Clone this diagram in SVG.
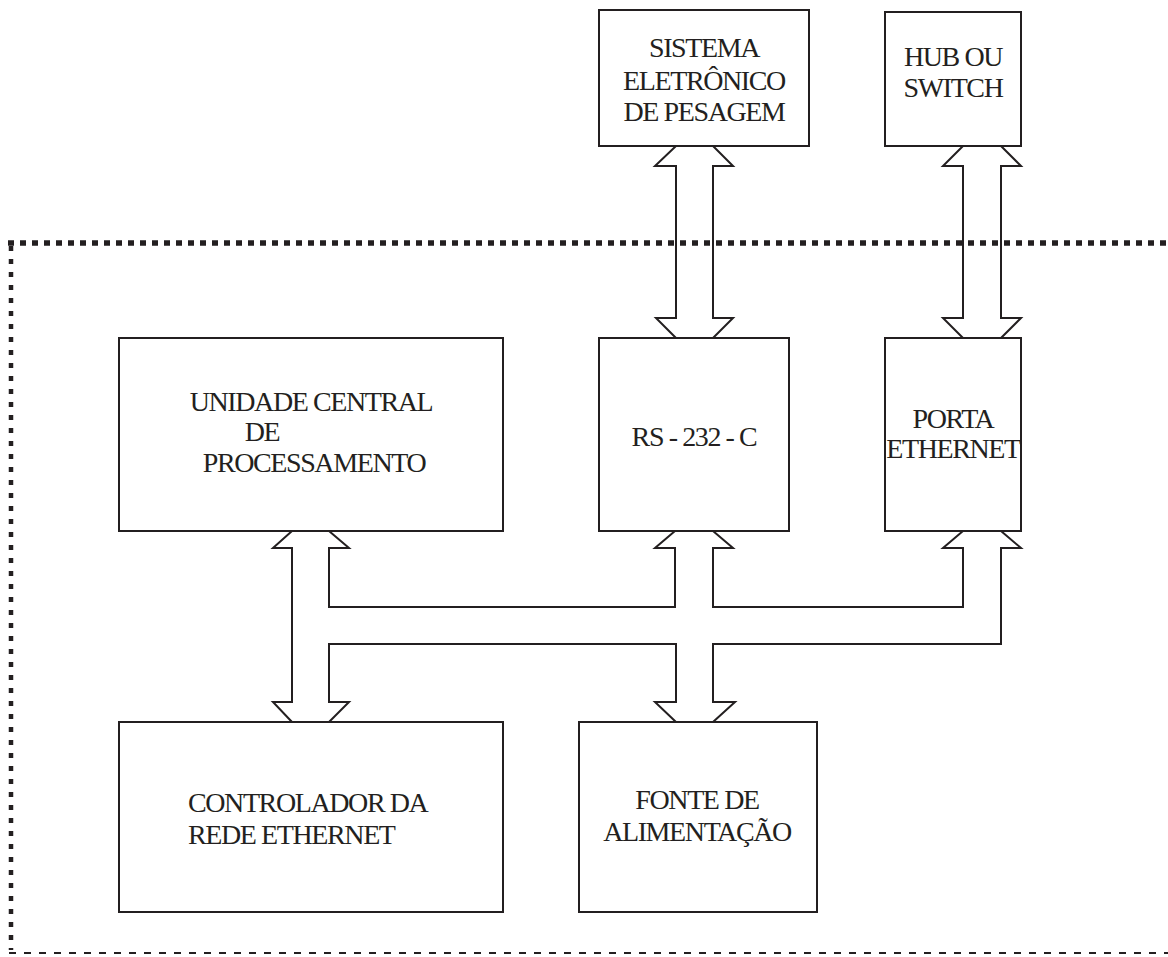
<svg xmlns="http://www.w3.org/2000/svg" width="1168" height="957" viewBox="0 0 1168 957">
<style>
.box{fill:#fff;stroke:#231f20;stroke-width:2}
.con{fill:none;stroke:#231f20;stroke-width:2;stroke-linejoin:miter}
.t{font-family:"Liberation Serif","Times New Roman",serif;font-size:28px;fill:#231f20;text-anchor:middle;letter-spacing:-1.4px}
.ts{text-anchor:start}
</style>
<rect width="1168" height="957" fill="#fff"/>
<g id="border">
<line x1="8" y1="243" x2="1168" y2="243" stroke="#231f20" stroke-width="5.5" stroke-dasharray="6 6"/>
<line x1="11" y1="246" x2="11" y2="950" stroke="#231f20" stroke-width="4.5" stroke-dasharray="5 8"/>
<line x1="9" y1="953" x2="1168" y2="953" stroke="#231f20" stroke-width="2" stroke-dasharray="7 8"/>
</g>
<g id="connectors">
<path class="con" d="M676,146 L655,166 L676,166 L676,318 L656,318 L676,338 M713,338 L733,318 L713,318 L713,166 L733,166 L713,146"/>
<path class="con" d="M963,146 L943,166 L963,166 L963,318 L943,318 L963,338 M1001,338 L1021,318 L1001,318 L1001,166 L1021,166 L1001,146"/>
<path class="con" d="M329,531 L349,548 L329,548 L329,607 L675,607 L675,548 L655,548 L675,531"/>
<path class="con" d="M713,531 L733,548 L713,548 L713,607 L963,607 L963,548 L943,548 L963,531"/>
<path class="con" d="M1001,531 L1021,548 L1001,548 L1001,644 L713,644 L713,702 L735,702 L713,722"/>
<path class="con" d="M676,722 L655,702 L676,702 L676,644 L329,644 L329,702 L349,702 L329,722"/>
<path class="con" d="M292,531 L273,548 L292,548 L292,702 L273,702 L292,722"/>
</g>
<g id="sistema">
<rect class="box" x="599" y="10" width="210" height="136"/>
<text class="t" x="704" y="57">SISTEMA</text>
<text class="t" x="704" y="90">ELETRÔNICO</text>
<text class="t" x="704" y="121">DE PESAGEM</text>
</g>
<g id="hub">
<rect class="box" x="885" y="12" width="136" height="134"/>
<text class="t" x="953" y="66">HUB OU</text>
<text class="t" x="953" y="97">SWITCH</text>
</g>
<g id="ucp">
<rect class="box" x="119" y="338" width="384" height="193"/>
<text class="t" x="311" y="411">UNIDADE CENTRAL</text>
<text class="t" x="262" y="441">DE</text>
<text class="t" x="314" y="472">PROCESSAMENTO</text>
</g>
<g id="rs232">
<rect class="box" x="599" y="338" width="190" height="193"/>
<text class="t" x="694" y="446">RS - 232 - C</text>
</g>
<g id="porta">
<rect class="box" x="885" y="338" width="136" height="193"/>
<text class="t" x="953" y="428">PORTA</text>
<text class="t" x="953" y="458">ETHERNET</text>
</g>
<g id="controlador">
<rect class="box" x="119" y="722" width="384" height="190"/>
<text class="t ts" x="188" y="812">CONTROLADOR DA</text>
<text class="t ts" x="188" y="844">REDE ETHERNET</text>
</g>
<g id="fonte">
<rect class="box" x="579" y="722" width="238" height="190"/>
<text class="t" x="697" y="809">FONTE DE</text>
<text class="t" x="697" y="841">ALIMENTAÇÃO</text>
</g>
</svg>
